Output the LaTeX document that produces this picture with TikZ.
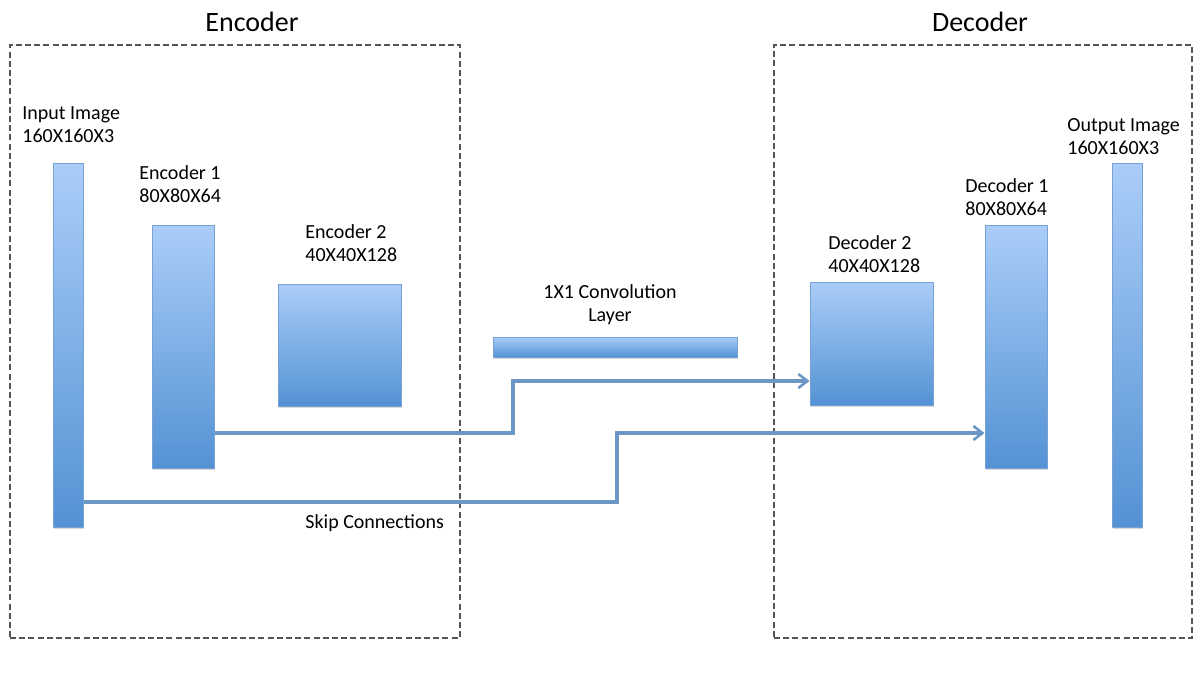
\documentclass[tikz,border=0pt]{standalone}
\usepackage{fontspec}
\setmainfont{Carlito}
\usepackage{tikz}
\usetikzlibrary{arrows.meta,positioning,shadows}
\definecolor{layertop}{RGB}{170,205,248}
\definecolor{layerbot}{RGB}{84,146,212}
\definecolor{layerline}{RGB}{118,162,214}
\definecolor{skipblue}{RGB}{108,150,198}
\definecolor{framegray}{RGB}{85,85,85}

\begin{document}
\begin{tikzpicture}[
  x=0.5pt, y=-0.5pt,
  layer/.style={rectangle, draw=layerline, line width=0.5pt, top color=layertop, bottom color=layerbot,
                inner sep=0pt, drop shadow={opacity=0.3, shadow xshift=0.6pt, shadow yshift=-1.2pt}},
  frame/.style={rectangle, draw=framegray, line width=1.2pt, dash pattern=on 3pt off 1.6pt, inner sep=0pt},
  title/.style={font=\fontsize{14}{16}\selectfont},
  lbl/.style={font=\fontsize{10}{11.5}\selectfont, align=left, inner sep=0pt, anchor=west},
  skip/.style={-{Straight Barb[length=4.5pt, width=7pt, line width=1.3pt]}, skipblue, line width=1.6pt}
]
\useasboundingbox (0,0) rectangle (1202,682);

\node[frame, minimum width=225pt, minimum height=296.5pt] (encframe) at (235,341.5) {};
\node[frame, minimum width=209pt, minimum height=296.5pt] (decframe) at (983,341.5) {};
\node[title] (enctitle) at (252,22) {Encoder};
\node[title] (dectitle) at (980,22) {Decoder};

\node[layer, minimum width=15pt,   minimum height=182pt]   (input) at (68,345)    {};
\node[layer, minimum width=31pt,   minimum height=121.5pt] (enc1)  at (183,346.5) {};
\node[layer, minimum width=61.5pt, minimum height=61pt]    (enc2)  at (339.5,345) {};
\node[layer, minimum width=122pt,  minimum height=10pt]    (conv)  at (615,347)   {};
\node[layer, minimum width=61.5pt, minimum height=61.5pt]  (dec2)  at (871.5,343.5) {};
\node[layer, minimum width=31pt,   minimum height=121.5pt] (dec1)  at (1016,346.5) {};
\node[layer, minimum width=15pt,   minimum height=182pt]   (output) at (1127,345) {};

\node[lbl] (inputlbl)  at (22,124.5)  {Input Image\\160X160X3};
\node[lbl] (enc1lbl)   at (139,184.5) {Encoder 1\\80X80X64};
\node[lbl] (enc2lbl)   at (305,243.5) {Encoder 2\\40X40X128};
\node[lbl, align=center, anchor=center] (convlbl) at (610,305) {1X1 Convolution\\Layer};
\node[lbl] (dec2lbl)   at (828,254.5) {Decoder 2\\40X40X128};
\node[lbl] (dec1lbl)   at (965,197.5) {Decoder 1\\80X80X64};
\node[lbl] (outputlbl) at (1067,136.5) {Output Image\\160X160X3};
\node[lbl] (skiplbl)   at (305,523)   {Skip Connections};

\coordinate (s1low)  at (513,433);
\coordinate (s1high) at (513,381);
\coordinate (s2low)  at (617,502);
\coordinate (s2high) at (617,433);
\draw[skip] (enc1.east |- s1low) -- (s1low) -- (s1high) -- (dec2.west |- s1high);
\draw[skip] (input.east |- s2low) -- (s2low) -- (s2high) -- (dec1.west |- s2high);
\end{tikzpicture}
\end{document}
